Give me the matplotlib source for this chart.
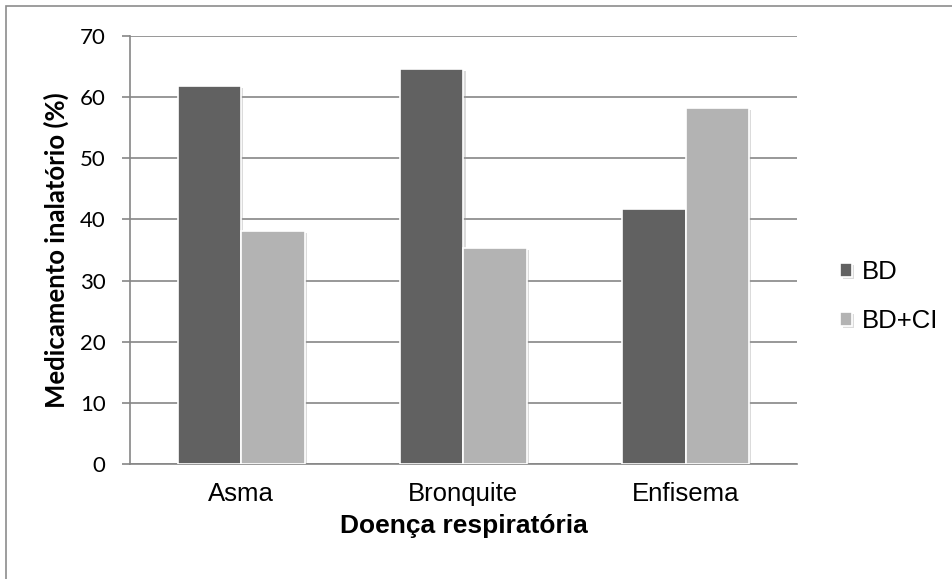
import matplotlib.pyplot as plt
import matplotlib.patheffects as pe
from matplotlib.patches import Rectangle
import numpy as np

plt.rcParams['font.family'] = ['Liberation Sans', 'DejaVu Sans']

categories = ['Asma', 'Bronquite', 'Enfisema']
bd = [61.8, 64.6, 41.7]
bd_ci = [38.1, 35.4, 58.3]
series_names = ['BD', 'BD+CI']

fig = plt.figure(figsize=(9.52, 5.79), dpi=100)
ax = fig.add_axes([0.1366, 0.1986, 0.7004, 0.7392])

# moldura externa (só topo e esquerda aparecem)
fig.patches.append(Rectangle((6 / 952, -0.1), 1.2, 0.1 + 1 - 6 / 579,
                             transform=fig.transFigure, fill=False,
                             edgecolor='#8c8c8c', linewidth=1.2))

x = np.arange(len(categories))
w = 0.285
shadow = [pe.SimplePatchShadow(offset=(1.5, -1.5), shadow_rgbFace='#999999', alpha=0.35), pe.Normal()]
b1 = ax.bar(x - w / 2, bd, w, color='#616161', edgecolor='white', linewidth=1.2,
            label=series_names[0], zorder=3)
b2 = ax.bar(x + w / 2, bd_ci, w, color='#b3b3b3', edgecolor='white', linewidth=1.2,
            label=series_names[1], zorder=3)
for b in list(b1) + list(b2):
    b.set_path_effects(shadow)

ax.set_xlim(-0.5, 2.5)
ax.set_ylim(0, 70)
ax.set_yticks(range(0, 71, 10))
ax.set_xticks(x)
ax.set_xticklabels(categories)
ax.yaxis.grid(True, color='#868686', linewidth=1.2, zorder=0)
ax.set_axisbelow(True)

for s in ['top', 'right']:
    ax.spines[s].set_visible(False)
for s in ['left', 'bottom']:
    ax.spines[s].set_color('#868686')
    ax.spines[s].set_linewidth(1.2)

ax.tick_params(axis='y', length=6, width=1.2, color='#868686', pad=11.5)
ax.tick_params(axis='x', length=0, labelsize=18.5, pad=13)
for t in ax.get_yticklabels():
    t.set_fontfamily(['Lato', 'DejaVu Sans'])
    t.set_fontsize(16)

ax.set_xlabel('Doença respiratória', fontsize=19, fontweight='bold', labelpad=6)
ax.set_ylabel('Medicamento inalatório (%)', fontsize=18.5, fontweight='bold',
              family=['Lato', 'DejaVu Sans'], labelpad=8)

ax.legend(loc='center left', bbox_to_anchor=(1.05, 0.391), frameon=False, fontsize=18.5,
          handlelength=0.45, handleheight=0.45, handletextpad=0.4, labelspacing=0.95,
          borderaxespad=0)

fig.savefig('out.png', dpi=100)
